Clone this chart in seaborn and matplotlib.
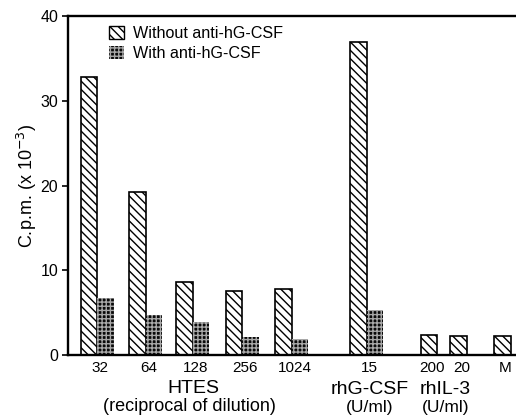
import matplotlib
matplotlib.use('Agg')
import matplotlib.pyplot as plt
import matplotlib.transforms as mtransforms
from matplotlib.patches import Patch
import seaborn as sns
import pandas as pd

# ---- data ----
conditions = ['32', '64', '128', '256', '1024', '15', '200', '20', 'M']
without_anti = [32.8, 19.2, 8.6, 7.5, 7.8, 36.9, 2.4, 2.3, 2.3]
with_anti = [6.7, 4.7, 3.9, 2.1, 1.9, 5.3]          # only first six conditions
series_labels = ['Without anti-hG-CSF', 'With anti-hG-CSF']
yticks = [0, 10, 20, 30, 40]

# ---- layout (bar centre positions, in bar-width units) ----
pos_without = [0, 2.95, 5.8, 8.8, 11.8, 16.35, 20.6, 22.4, 25.05]
pos_with = [p + 1 for p in pos_without[:len(with_anti)]]
tick_pos = [p + (0.65 if i < len(with_anti) else 0.2) for i, p in enumerate(pos_without)]

rows = []
for p, v in zip(pos_without, without_anti):
    rows.append({'pos': p, 'value': v, 'series': series_labels[0]})
for p, v in zip(pos_with, with_anti):
    rows.append({'pos': p, 'value': v, 'series': series_labels[1]})
df = pd.DataFrame(rows)

sns.set_style('ticks')
plt.rcParams['font.family'] = ['Liberation Sans', 'DejaVu Sans']
plt.rcParams['hatch.linewidth'] = 1.0
plt.rcParams['text.color'] = 'black'
plt.rcParams['xtick.color'] = 'black'
plt.rcParams['ytick.color'] = 'black'

fig = plt.figure(figsize=(5.16, 4.18), dpi=100)
ax = fig.add_axes([68 / 516, 1 - 355 / 418, 1 - 68 / 516, (355 - 16) / 418])

sns.barplot(data=df, x='pos', y='value', hue='series', native_scale=True,
            dodge=False, width=1.0, errorbar=None, legend=False,
            palette={series_labels[0]: 'white', series_labels[1]: 'black'},
            ax=ax)

for bar in ax.containers[0]:
    bar.set_facecolor('white')
    bar.set_edgecolor('black')
    bar.set_linewidth(1.2)
    bar.set_hatch('\\\\\\\\')
for bar in ax.containers[1]:
    bar.set_facecolor('#0a0a0a')
    bar.set_edgecolor('#a8a8a8')
    bar.set_linewidth(0)
    bar.set_hatch('++++')

ax.set_xlim(-1.27, 25.88)
ax.set_ylim(0, 40)
ax.set_yticks(yticks)
ax.set_xticks(tick_pos)
ax.set_xticklabels(conditions, fontsize=11)
ax.tick_params(axis='x', length=0, pad=4)
ax.tick_params(axis='y', length=4, width=1.2, direction='out', labelsize=11.5, pad=3)
ax.set_xlabel('')
ax.set_ylabel('C.p.m. (x 10$^{-3}$)', fontsize=13, labelpad=1, color='black')

for s in ['left', 'bottom', 'top']:
    ax.spines[s].set_linewidth(1.7)
    ax.spines[s].set_color('black')
ax.spines['right'].set_visible(False)

trans = mtransforms.blended_transform_factory(ax.transData, ax.transAxes)
ax.text(6.3, -0.100, 'HTES', transform=trans, ha='center', va='center', fontsize=14)
ax.text(6.1, -0.153, '(reciprocal of dilution)', transform=trans, ha='center', va='center', fontsize=13)
ax.text(17.0, -0.103, 'rhG-CSF', transform=trans, ha='center', va='center', fontsize=14)
ax.text(17.0, -0.156, '(U/ml)', transform=trans, ha='center', va='center', fontsize=12.5)
ax.text(21.6, -0.103, 'rhIL-3', transform=trans, ha='center', va='center', fontsize=14)
ax.text(21.6, -0.156, '(U/ml)', transform=trans, ha='center', va='center', fontsize=12.5)

handles = [Patch(facecolor='white', edgecolor='black', hatch='\\\\\\\\', linewidth=1.0),
           Patch(facecolor='#0a0a0a', edgecolor='#a8a8a8', hatch='++++', linewidth=0)]
ax.legend(handles, series_labels, loc='upper left', bbox_to_anchor=(0.07, 1.0),
          frameon=False, fontsize=11.6, handlelength=0.9, handleheight=0.9,
          handletextpad=0.6, labelspacing=0.3, borderaxespad=0.2)

fig.savefig('out.png', dpi=100)
